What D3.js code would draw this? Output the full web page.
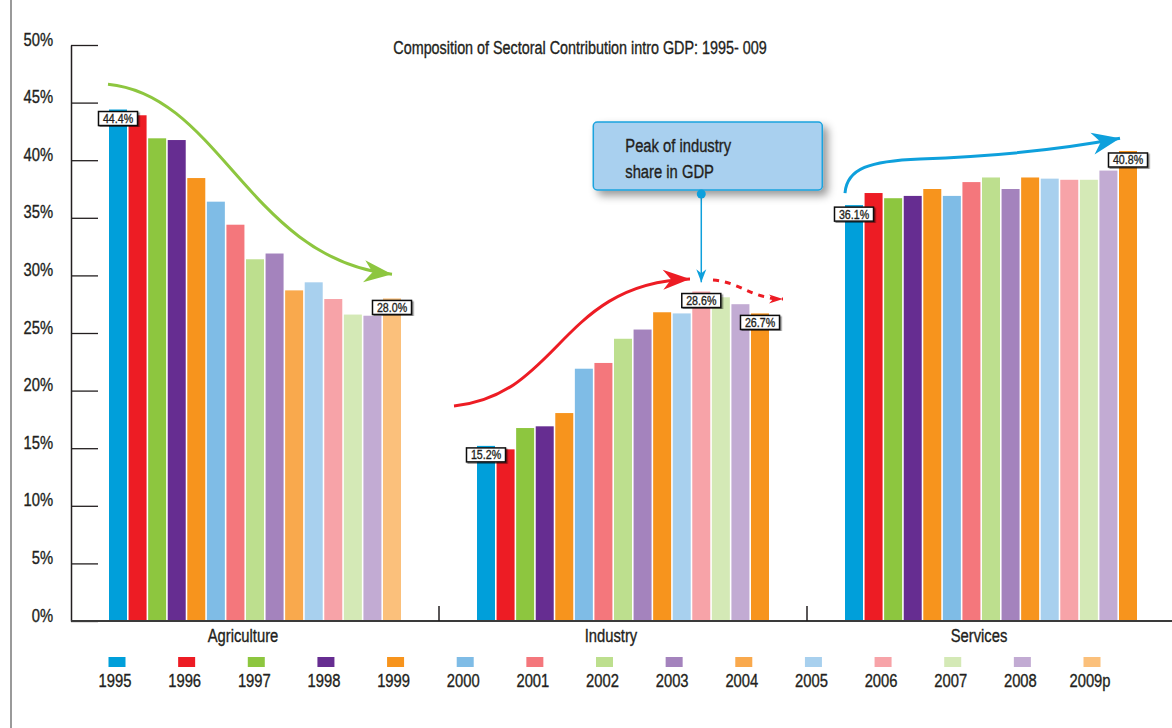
<!DOCTYPE html>
<html>
<head>
<meta charset="utf-8">
<script src="https://cdn.jsdelivr.net/npm/d3@7"></script>
<style>
  body { margin: 0; background: #fff; }
  svg { display: block; font-family: "Liberation Sans", Arial, sans-serif; }
  svg text { stroke: #231f20; stroke-width: 0.35px; }
</style>
</head>
<body>
<div id="chart"></div>
<script>
const sectors = ['Agriculture', 'Industry', 'Services']
const years = ['1995', '1996', '1997', '1998', '1999', '2000', '2001', '2002', '2003', '2004', '2005', '2006', '2007', '2008', '2009p']
const agriculture = [44.4, 43.9, 41.9, 41.75, 38.45, 36.4, 34.4, 31.4, 31.9, 28.7, 29.4, 27.95, 26.6, 26.5, 28.0]
const industry = [15.2, 14.9, 16.75, 16.9, 18.05, 21.9, 22.4, 24.5, 25.3, 26.8, 26.7, 28.6, 28.1, 27.5, 26.7]
const services = [36.1, 37.15, 36.7, 36.9, 37.5, 36.9, 38.1, 38.5, 37.5, 38.5, 38.4, 38.3, 38.3, 39.1, 40.8]
const yTicks = [0, 5, 10, 15, 20, 25, 30, 35, 40, 45, 50]
// bars that carry a value box
const labelled = [['Agriculture', '1995'], ['Agriculture', '2009p'], ['Industry', '1995'], ['Industry', '2006'], ['Industry', '2009p'], ['Services', '1995'], ['Services', '2009p']]

const palette = ['#009fda', '#ed1c24', '#8dc63f', '#662d91', '#f7941d', '#7fbce6', '#f4777c', '#bddf8e', '#a483bd', '#f9a94d', '#a8d0ee', '#f7a3a8', '#d4e9b6', '#c2abd3', '#fbc07b']
// industry and services draw 2004 and 2009p in full orange
const palette2 = palette.map((c, i) => (i === 9 || i === 14) ? '#f7941d' : c)
const ink = '#231f20'

const width = 1172, height = 728
const values = {Agriculture: agriculture, Industry: industry, Services: services}
const colorsFor = {Agriculture: palette, Industry: palette2, Services: palette2}

const svg = d3.select('#chart')
  .append('svg')
  .attr('width', width)
  .attr('height', height)

const defs = svg.append('defs')
defs.append('filter').attr('id', 'boxShadow')
  .attr('x', '-20%').attr('y', '-20%').attr('width', '150%').attr('height', '160%')
  .append('feDropShadow')
  .attr('dx', 5).attr('dy', 5).attr('stdDeviation', 4)
  .attr('flood-color', '#000').attr('flood-opacity', 0.4)
defs.append('filter').attr('id', 'tagShadow')
  .append('feDropShadow')
  .attr('dx', 1.5).attr('dy', 1.5).attr('stdDeviation', 0.6)
  .attr('flood-color', '#000').attr('flood-opacity', 0.45)

const arrowHead = (id, color, len, half) => {
  defs.append('marker')
    .attr('id', id)
    .attr('markerUnits', 'userSpaceOnUse')
    .attr('viewBox', `${-len - 2} ${-half - 2} ${len + 4} ${half * 2 + 4}`)
    .attr('markerWidth', len + 4)
    .attr('markerHeight', half * 2 + 4)
    .attr('refX', 0).attr('refY', 0)
    .attr('orient', 'auto')
    .append('path')
    .attr('d', `M0,0 L${-len},${-half} L${-len * 0.7},0 L${-len},${half} Z`)
    .attr('fill', color)
}
arrowHead('headGreen', '#8dc63f', 28, 11)
arrowHead('headRed', '#ed1c24', 27, 10)
arrowHead('headRedSmall', '#ed1c24', 14, 4.5)
arrowHead('headBlue', '#0ea0dc', 28, 11)
arrowHead('headDown', '#0ea0dc', 13, 5)

// frame line on the left
svg.append('line')
  .attr('x1', 11).attr('x2', 11).attr('y1', 0).attr('y2', height)
  .attr('stroke', '#9a9a9a').attr('stroke-width', 2)

const y = d3.scaleLinear().domain([0, 50]).range([621, 45])
const x0 = d3.scaleBand().domain(sectors).range([71, 1175])
const x1 = d3.scaleBand().domain(years).range([38, 330]).paddingInner(0.08)

// y axis
const yAxis = d3.axisLeft(y)
  .tickValues(yTicks)
  .tickFormat(d => d + '%')
  .tickSizeInner(-27)
  .tickSizeOuter(0)
  .tickPadding(18)
const gy = svg.append('g')
  .attr('transform', 'translate(71,0)')
  .call(yAxis)
  .attr('font-family', null)
  .attr('font-size', null)
gy.select('.domain').attr('stroke', ink).attr('stroke-width', 1.5)
gy.selectAll('.tick line').attr('stroke', ink).attr('stroke-width', 1.3)
gy.selectAll('.tick text')
  .attr('dy', 0)
  .attr('fill', ink)
  .style('font-size', '18px')

// title
svg.append('text')
  .text('Composition of Sectoral Contribution intro GDP: 1995- 009')
  .attr('x', 580).attr('y', 54)
  .attr('text-anchor', 'middle')
  .attr('fill', ink)
  .style('font-size', '17.5px')

// bars
const groups = svg.selectAll('.sector')
  .data(sectors)
  .enter()
  .append('g')
  .attr('class', 'sector')
  .attr('transform', d => `translate(${x0(d)},0)`)

groups.selectAll('rect')
  .data(s => values[s].map((v, i) => ({sector: s, year: years[i], value: v, color: colorsFor[s][i]})))
  .enter()
  .append('rect')
  .attr('x', d => x1(d.year))
  .attr('y', d => y(d.value))
  .attr('width', x1.bandwidth())
  .attr('height', d => y(0) - y(d.value))
  .attr('fill', d => d.color)

// x baseline and group separators
svg.append('line')
  .attr('x1', 71).attr('x2', width).attr('y1', y(0)).attr('y2', y(0))
  .attr('stroke', '#3a3a3a').attr('stroke-width', 2)
svg.selectAll('.sep')
  .data(sectors.slice(1))
  .enter()
  .append('line')
  .attr('class', 'sep')
  .attr('x1', d => x0(d)).attr('x2', d => x0(d))
  .attr('y1', y(0)).attr('y2', y(0) - 15)
  .attr('stroke', ink).attr('stroke-width', 1.5)

svg.selectAll('.sectorLabel')
  .data(sectors)
  .enter()
  .append('text')
  .attr('class', 'sectorLabel')
  .text(d => d)
  .attr('x', d => x0(d) + x0.bandwidth() / 2 - 12)
  .attr('y', 642)
  .attr('text-anchor', 'middle')
  .attr('fill', ink)
  .style('font-size', '18px')

// value tags
const tags = svg.selectAll('.tag')
  .data(labelled.map(([s, yr]) => ({sector: s, year: yr, value: values[s][years.indexOf(yr)]})))
  .enter()
  .append('g')
  .attr('class', 'tag')
  .attr('transform', d => `translate(${x0(d.sector) + x1(d.year) + x1.bandwidth() / 2},${y(d.value) + 2})`)
tags.append('rect')
  .attr('x', -19.5).attr('y', 0)
  .attr('width', 39).attr('height', 14)
  .attr('fill', '#fff')
  .attr('stroke', '#111').attr('stroke-width', 1.5)
  .attr('filter', 'url(#tagShadow)')
tags.append('text')
  .text(d => d.value.toFixed(1) + '%')
  .attr('x', 0).attr('y', 11.5)
  .attr('text-anchor', 'middle')
  .attr('fill', ink)
  .style('font-size', '13px')

// trend arrows (positions in sector offset px / data value)
const P = (s, dx, v) => `${x0(s) + dx},${y(v)}`
svg.append('path')
  .attr('d', `M${P('Agriculture', 37, 46.6)} C${P('Agriculture', 149, 45.66)} ${P('Agriculture', 179, 31.4)} ${P('Agriculture', 321, 30.1)}`)
  .attr('fill', 'none').attr('stroke', '#8dc63f').attr('stroke-width', 3)
  .attr('marker-end', 'url(#headGreen)')
svg.append('path')
  .attr('d', `M${P('Industry', 15, 18.66)} C${P('Industry', 121, 19.6)} ${P('Industry', 121, 29.34)} ${P('Industry', 251, 29.69)}`)
  .attr('fill', 'none').attr('stroke', '#ed1c24').attr('stroke-width', 3)
  .attr('marker-end', 'url(#headRed)')
svg.append('path')
  .attr('d', `M${P('Industry', 274, 29.6)} C${P('Industry', 301, 29.43)} ${P('Industry', 313, 27.95)} ${P('Industry', 344, 27.95)}`)
  .attr('fill', 'none').attr('stroke', '#ed1c24').attr('stroke-width', 3)
  .attr('stroke-dasharray', '6 6')
  .attr('marker-end', 'url(#headRedSmall)')
svg.append('path')
  .attr('d', `M${P('Services', 38, 37.15)} C${P('Services', 40, 39.3)} ${P('Services', 63, 39.93)} ${P('Services', 113, 40.1)} C${P('Services', 193, 40.36)} ${P('Services', 253, 40.9)} ${P('Services', 313, 41.9)}`)
  .attr('fill', 'none').attr('stroke', '#0ea0dc').attr('stroke-width', 3)
  .attr('marker-end', 'url(#headBlue)')

// callout pointing at the industry peak
const peakX = x0('Industry') + x1('2006') + x1.bandwidth() / 2
const callout = svg.append('g').attr('transform', `translate(${peakX},0)`)
callout.append('line')
  .attr('x1', 0).attr('x2', 0).attr('y1', 194).attr('y2', y(29.4))
  .attr('stroke', '#0ea0dc').attr('stroke-width', 1.5)
  .attr('marker-end', 'url(#headDown)')
callout.append('rect')
  .attr('x', -108).attr('y', 122)
  .attr('width', 229).attr('height', 68)
  .attr('rx', 4)
  .attr('fill', '#a9d0ef')
  .attr('stroke', '#1aa3de').attr('stroke-width', 1.5)
  .attr('filter', 'url(#boxShadow)')
callout.append('circle')
  .attr('cx', 0).attr('cy', 194).attr('r', 4.5)
  .attr('fill', '#0ea0dc')
callout.append('text')
  .text('Peak of industry')
  .attr('x', -76).attr('y', 152)
  .attr('fill', ink)
  .style('font-size', '18px')
callout.append('text')
  .text('share in GDP')
  .attr('x', -76).attr('y', 178)
  .attr('fill', ink)
  .style('font-size', '18px')

// legend
const lx = d3.scalePoint().domain(years).range([117, 1092])
const legend = svg.selectAll('.legend')
  .data(years)
  .enter()
  .append('g')
  .attr('class', 'legend')
  .attr('transform', d => `translate(${lx(d)},0)`)
legend.append('rect')
  .attr('x', -8.5).attr('y', 657)
  .attr('width', 17).attr('height', 10)
  .attr('fill', (d, i) => palette[i])
legend.append('text')
  .text(d => d)
  .attr('x', -2).attr('y', 687)
  .attr('text-anchor', 'middle')
  .attr('fill', ink)
  .style('font-size', '18px')

// the original uses a condensed face: squeeze every label horizontally
svg.selectAll('text').each(function() {
  const w = this.getComputedTextLength()
  d3.select(this)
    .attr('textLength', w * 0.82)
    .attr('lengthAdjust', 'spacingAndGlyphs')
})
</script>
</body>
</html>
